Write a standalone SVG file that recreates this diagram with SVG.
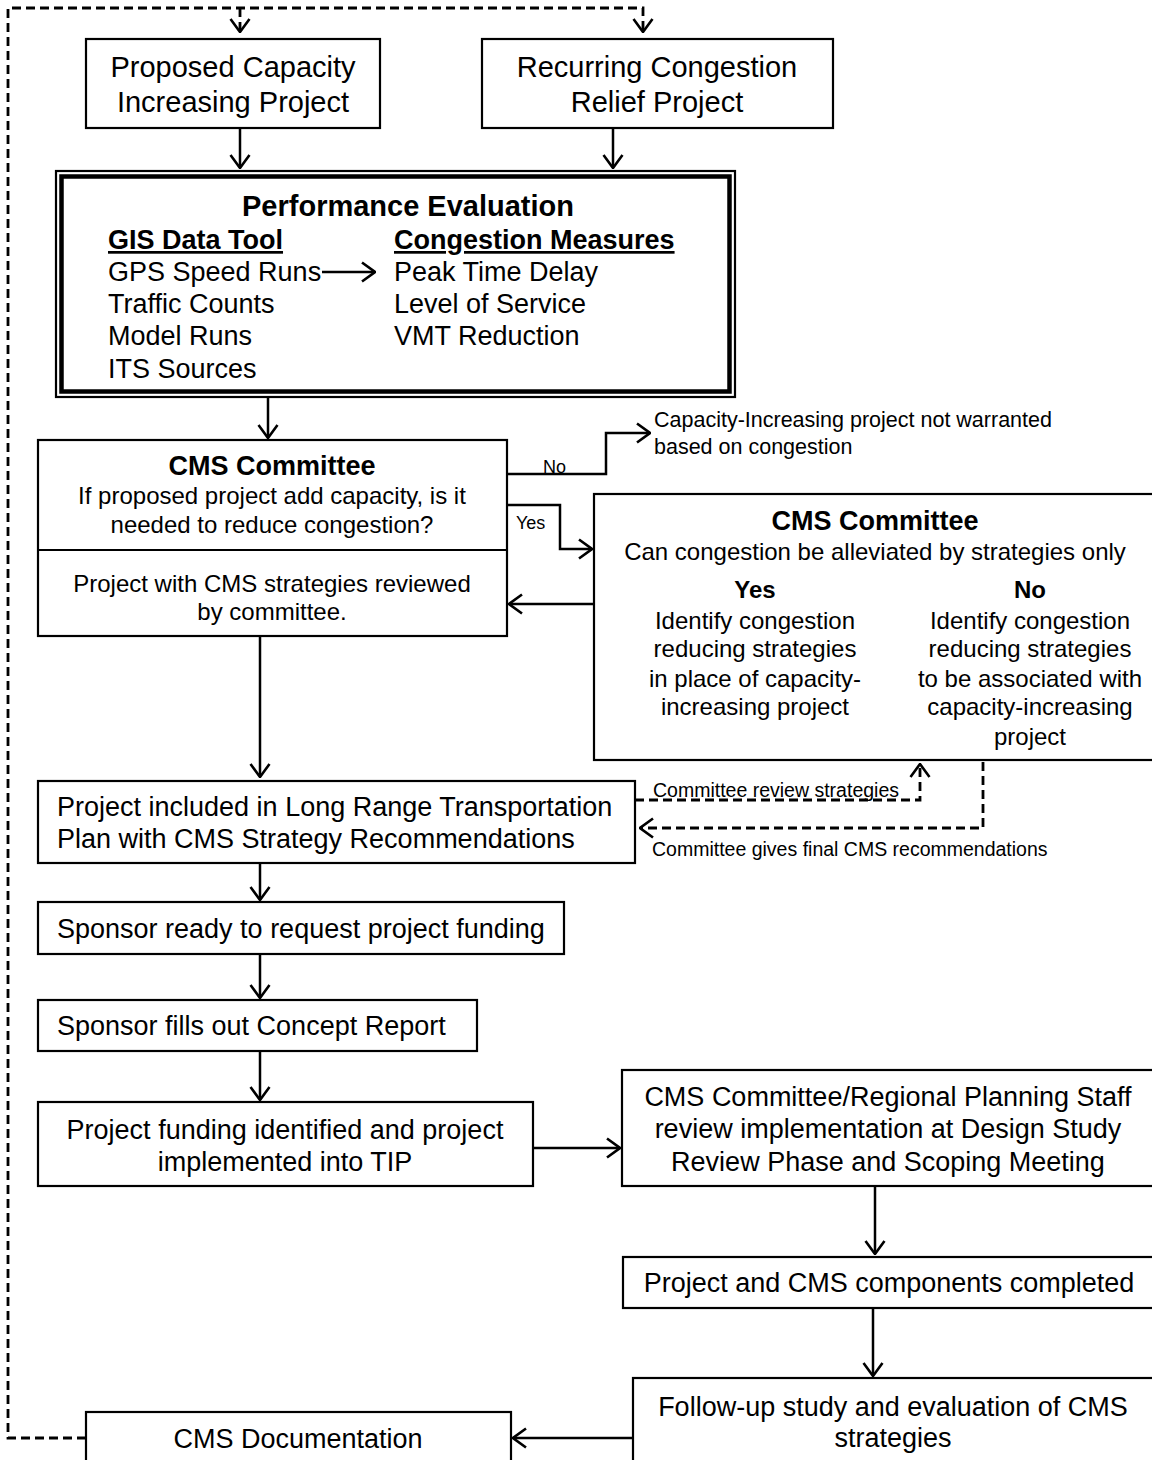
<svg xmlns="http://www.w3.org/2000/svg" width="1152" height="1460" viewBox="0 0 1152 1460">
<style>
  .box{fill:#fff;stroke:#000;stroke-width:2.2}
  .t{font-family:"Liberation Sans",Arial,sans-serif;fill:#000}
  .c{text-anchor:middle}
  .b{font-weight:bold}
  .u{text-decoration:underline}
  .f29{font-size:29px}
  .f27{font-size:27px}
  .f24{font-size:24px}
  .f21{font-size:21.5px}
  .f19{font-size:19.5px}
  .f18{font-size:18px}
  .ln{fill:none;stroke:#000;stroke-width:2.5}
  .dash{fill:none;stroke:#000;stroke-width:2.8;stroke-dasharray:9 5}
</style>
<defs>
  <marker id="ah" viewBox="0 0 15 22" refX="14" refY="11" markerWidth="15" markerHeight="22" markerUnits="userSpaceOnUse" orient="auto">
    <path d="M1,1.5 L14,11 L1,20.5" fill="none" stroke="#000" stroke-width="2.6"/>
  </marker>
</defs>
<rect width="1152" height="1460" fill="#fff"/>

<g id="connectors">
  <path class="dash" d="M86,1438 H8 V8 H643 V32" marker-end="url(#ah)"/>
  <path class="dash" d="M240,8 V32" marker-end="url(#ah)"/>
  <path class="ln" d="M240,128 V168" marker-end="url(#ah)"/>
  <path class="ln" d="M613,128 V168" marker-end="url(#ah)"/>
  <path class="ln" d="M268,398 V438" marker-end="url(#ah)"/>
  <path class="ln" d="M507,474 H606 V433 H650" marker-end="url(#ah)"/>
  <text class="t f18" x="543" y="473">No</text>
  <path class="ln" d="M507,505 H560 V549 H592" marker-end="url(#ah)"/>
  <text class="t f18" x="516" y="529">Yes</text>
  <path class="ln" d="M594,604 H509" marker-end="url(#ah)"/>
  <path class="ln" d="M260,636 V777" marker-end="url(#ah)"/>
  <path class="dash" d="M635,800 H920 V764" marker-end="url(#ah)"/>
  <text class="t f19" x="653" y="797">Committee review strategies</text>
  <path class="dash" d="M983,762 V828 H640" marker-end="url(#ah)"/>
  <text class="t f19" x="652" y="856">Committee gives final CMS recommendations</text>
  <path class="ln" d="M260,863 V900" marker-end="url(#ah)"/>
  <path class="ln" d="M260,954 V998" marker-end="url(#ah)"/>
  <path class="ln" d="M260,1051 V1100" marker-end="url(#ah)"/>
  <path class="ln" d="M533,1148 H620" marker-end="url(#ah)"/>
  <path class="ln" d="M875,1186 V1254" marker-end="url(#ah)"/>
  <path class="ln" d="M873,1308 V1376" marker-end="url(#ah)"/>
  <path class="ln" d="M633,1438 H513" marker-end="url(#ah)"/>
</g>

<g id="proposed">
  <rect class="box" x="86" y="39" width="294" height="89"/>
  <text class="t f29 c" x="233" y="77">Proposed Capacity</text>
  <text class="t f29 c" x="233" y="112">Increasing Project</text>
</g>

<g id="recurring">
  <rect class="box" x="482" y="39" width="351" height="89"/>
  <text class="t f29 c" x="657" y="77">Recurring Congestion</text>
  <text class="t f29 c" x="657" y="112">Relief Project</text>
</g>

<g id="performance">
  <rect x="56" y="171" width="679" height="226" fill="#fff" stroke="#000" stroke-width="2.2"/>
  <rect x="61.5" y="176.5" width="668" height="215" fill="none" stroke="#000" stroke-width="4.5"/>
  <text class="t f29 c b" x="408" y="216">Performance Evaluation</text>
  <text class="t f27 b u" x="108" y="249">GIS Data Tool</text>
  <text class="t f27 b u" x="394" y="249">Congestion Measures</text>
  <text class="t f27" x="108" y="281">GPS Speed Runs</text>
  <text class="t f27" x="108" y="313">Traffic Counts</text>
  <text class="t f27" x="108" y="345">Model Runs</text>
  <text class="t f27" x="108" y="378">ITS Sources</text>
  <text class="t f27" x="394" y="281">Peak Time Delay</text>
  <text class="t f27" x="394" y="313">Level of Service</text>
  <text class="t f27" x="394" y="345">VMT Reduction</text>
  <path class="ln" d="M322,272 H375" marker-end="url(#ah)"/>
</g>

<g id="cms-committee-1">
  <rect class="box" x="38" y="440" width="469" height="196"/>
  <line x1="38" y1="550" x2="507" y2="550" stroke="#000" stroke-width="2.2"/>
  <text class="t f27 c b" x="272" y="475">CMS Committee</text>
  <text class="t f24 c" x="272" y="504">If proposed project add capacity, is it</text>
  <text class="t f24 c" x="272" y="533">needed to reduce congestion?</text>
  <text class="t f24 c" x="272" y="592">Project with CMS strategies reviewed</text>
  <text class="t f24 c" x="272" y="620">by committee.</text>
</g>

<g id="not-warranted">
  <text class="t f21" x="654" y="427">Capacity-Increasing project not warranted</text>
  <text class="t f21" x="654" y="454">based on congestion</text>
</g>

<g id="cms-committee-2">
  <rect class="box" x="594" y="494" width="570" height="266"/>
  <text class="t f27 c b" x="875" y="530">CMS Committee</text>
  <text class="t f24 c" x="875" y="560">Can congestion be alleviated by strategies only</text>
  <text class="t f24 c b" x="755" y="598">Yes</text>
  <text class="t f24 c b" x="1030" y="598">No</text>
  <text class="t f24 c" x="755" y="629">Identify congestion</text>
  <text class="t f24 c" x="755" y="657">reducing strategies</text>
  <text class="t f24 c" x="755" y="687">in place of capacity-</text>
  <text class="t f24 c" x="755" y="715">increasing project</text>
  <text class="t f24 c" x="1030" y="629">Identify congestion</text>
  <text class="t f24 c" x="1030" y="657">reducing strategies</text>
  <text class="t f24 c" x="1030" y="687">to be associated with</text>
  <text class="t f24 c" x="1030" y="715">capacity-increasing</text>
  <text class="t f24 c" x="1030" y="745">project</text>
</g>

<g id="lrtp">
  <rect class="box" x="38" y="781" width="597" height="82"/>
  <text class="t f27" x="57" y="816">Project included in Long Range Transportation</text>
  <text class="t f27" x="57" y="848">Plan with CMS Strategy Recommendations</text>
</g>

<g id="sponsor-ready">
  <rect class="box" x="38" y="902" width="526" height="52"/>
  <text class="t f27" x="57" y="938">Sponsor ready to request project funding</text>
</g>

<g id="sponsor-fills">
  <rect class="box" x="38" y="1000" width="439" height="51"/>
  <text class="t f27" x="57" y="1035">Sponsor fills out Concept Report</text>
</g>

<g id="funding">
  <rect class="box" x="38" y="1102" width="495" height="84"/>
  <text class="t f27 c" x="285" y="1139">Project funding identified and project</text>
  <text class="t f27 c" x="285" y="1171">implemented into TIP</text>
</g>

<g id="review-implementation">
  <rect class="box" x="622" y="1070" width="540" height="116"/>
  <text class="t f27 c" x="888" y="1106">CMS Committee/Regional Planning Staff</text>
  <text class="t f27 c" x="888" y="1138">review implementation at Design Study</text>
  <text class="t f27 c" x="888" y="1171">Review Phase and Scoping Meeting</text>
</g>

<g id="completed">
  <rect class="box" x="623" y="1257" width="540" height="51"/>
  <text class="t f27 c" x="889" y="1292">Project and CMS components completed</text>
</g>

<g id="follow-up">
  <rect class="box" x="633" y="1378" width="530" height="100"/>
  <text class="t f27 c" x="893" y="1416">Follow-up study and evaluation of CMS</text>
  <text class="t f27 c" x="893" y="1447">strategies</text>
</g>

<g id="documentation">
  <rect class="box" x="86" y="1412" width="425" height="60"/>
  <text class="t f27 c" x="298" y="1448">CMS Documentation</text>
</g>
</svg>
